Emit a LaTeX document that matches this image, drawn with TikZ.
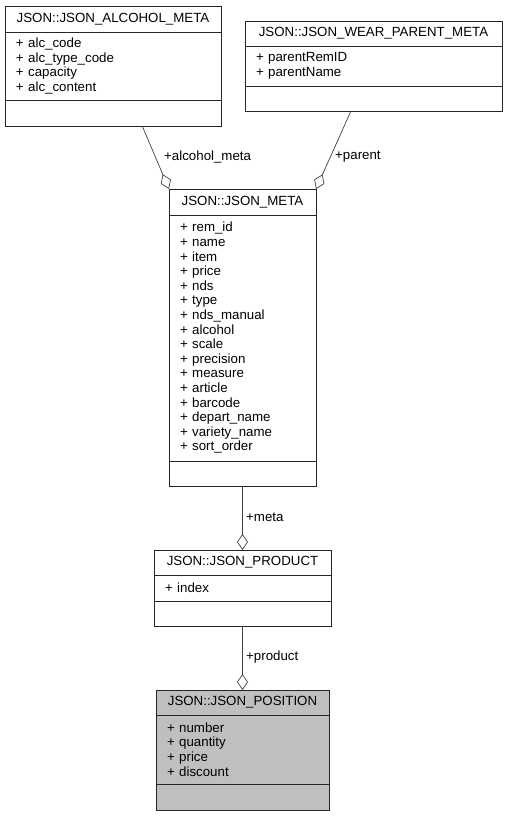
\documentclass[tikz,border=0pt]{standalone}
\usepackage{fontspec}
\setmainfont{Liberation Sans}
\usetikzlibrary{arrows.meta,positioning}
\tikzset{
    classname/.style={draw=black!85, line width=0.9pt, anchor=north west, align=center, inner sep=0pt, outer sep=0pt, minimum height=26pt, font=\fontsize{13.3}{14.6}\selectfont},
    members/.style={draw=black!85, line width=0.9pt, align=left, inner xsep=11pt, inner ysep=0pt, outer sep=0pt, font=\fontsize{13.3}{14.6}\selectfont},
    methods/.style={draw=black!85, line width=0.9pt, inner sep=0pt, outer sep=0pt, minimum height=25pt},
    current/.style={fill=black!25},
    aggregation/.style={-{Diamond[open, length=16pt, width=11pt]}, line width=0.7pt, black!75},
    rolelabel/.style={anchor=west, inner sep=0pt, font=\fontsize{13.3}{14.6}\selectfont}
}
\begin{document}
\begin{tikzpicture}[x=1pt, y=-1pt]
    \useasboundingbox (0,0) rectangle (507,816);
    % JSON_ALCOHOL_META
    \node[classname, minimum width=216pt] (alc) at (5,6) {JSON::JSON\_ALCOHOL\_META};
    \node[members, text width=194pt, minimum height=68pt, below=0pt of alc] (alcattr) {+ alc\_code\\+ alc\_type\_code\\+ capacity\\+ alc\_content};
    \node[methods, minimum width=216pt, minimum height=26pt, below=0pt of alcattr] (alcops) {};

    % JSON_WEAR_PARENT_META
    \node[classname, minimum width=257pt, minimum height=25pt] (wear) at (245,21) {JSON::JSON\_WEAR\_PARENT\_META};
    \node[members, text width=235pt, minimum height=40pt, below=0pt of wear] (wearattr) {+ parentRemID\\+ parentName};
    \node[methods, minimum width=257pt, below=0pt of wearattr] (wearops) {};

    % JSON_META
    \node[classname, minimum width=147pt] (meta) at (169,189) {JSON::JSON\_META};
    \node[members, text width=125pt, minimum height=246pt, below=0pt of meta] (metaattr) {+ rem\_id\\+ name\\+ item\\+ price\\+ nds\\+ type\\+ nds\_manual\\+ alcohol\\+ scale\\+ precision\\+ measure\\+ article\\+ barcode\\+ depart\_name\\+ variety\_name\\+ sort\_order};
    \node[methods, minimum width=147pt, below=0pt of metaattr] (metaops) {};

    % JSON_PRODUCT
    \node[classname, minimum width=177pt, minimum height=25pt] (product) at (154,550) {JSON::JSON\_PRODUCT};
    \node[members, text width=155pt, minimum height=26pt, below=0pt of product] (productattr) {+ index};
    \node[methods, minimum width=177pt, below=0pt of productattr] (productops) {};

    % JSON_POSITION
    \node[classname, current, minimum width=173pt, minimum height=25pt] (posn) at (156,690) {JSON::JSON\_POSITION};
    \node[members, current, text width=151pt, minimum height=69pt, below=0pt of posn] (posnattr) {+ number\\+ quantity\\+ price\\+ discount};
    \node[methods, current, minimum width=173pt, minimum height=26pt, below=0pt of posnattr] (posnops) {};

    % aggregations
    \draw[aggregation] (alcops.-24) -- (meta.north west);
    \draw[aggregation] (wearops.-151) -- (meta.north east);
    \draw[aggregation] (metaops.south) -- (product.north);
    \draw[aggregation] (productops.south) -- (posn.north);

    \node[rolelabel] (lalc) at (164,157) {+alcohol\_meta};
    \node[rolelabel] (lparent) at (335,157) {+parent};
    \node[rolelabel] (lmeta) at (246,517) {+meta};
    \node[rolelabel] (lproduct) at (246,657) {+product};
\end{tikzpicture}
\end{document}
